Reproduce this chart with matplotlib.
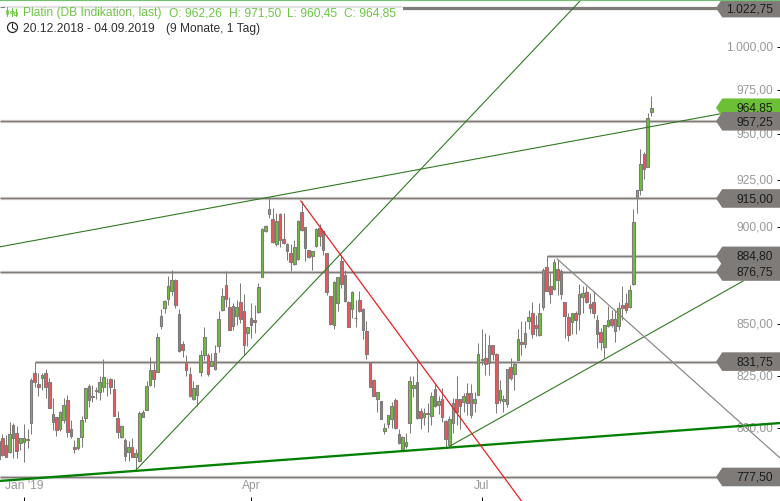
# Platin daily candles with support/resistance levels and trend lines

import numpy as np
import matplotlib
matplotlib.use("Agg")
import matplotlib.pyplot as plt
from matplotlib.patches import Polygon, Circle, Rectangle
from matplotlib.ticker import NullLocator
from matplotlib.transforms import ScaledTranslation

plt.rcParams['font.family'] = ['Liberation Sans', 'DejaVu Sans']

# Candles, one entry per trading day from 20.12.2018 to 04.09.2019
opens = [785.7, 795.3, 792.2, 788.8, 801.5, 797.6, 793, 793.4, 794.9, 802.3,
         826, 820.8, 823.6, 826, 822, 806.5, 805.4, 799.5, 803.9, 813.3,
         799.5, 791.1, 790.6, 796, 805, 820.1, 814.9, 817.7, 817.3, 819.7,
         821.6, 823.2, 818.5, 804.7, 796, 794.5, 788.8, 791.4, 786.8, 785,
         805.4, 808.7, 820.4, 827.6, 826.6, 849.4, 858, 862.7, 866.6, 872.5,
         855.2, 840.5, 831.7, 825.9, 813.8, 815.5, 826.7, 834.8, 835.1, 829.5,
         828.3, 839.2, 857.4, 869.9, 858.7, 849.1, 854.4, 861.2, 856.9, 845.8,
         853.2, 852.4, 856, 873.9, 898, 906.8, 903.9, 890.9, 906.8, 893.5,
         891.1, 886.2, 880.6, 883.3, 907.7, 899.7, 887.6, 884.5, 889.7, 899.2,
         897.8, 886.2, 864.1, 849.6, 861, 882.4, 875.1, 861.2, 857.7, 853.3,
         862.4, 857.7, 846.9, 831.3, 822.9, 813.8, 812.8, 798.9, 802, 804.5,
         813.3, 797.2, 789.9, 791.7, 802.3, 819.2, 821.8, 808.1, 805.4, 806.9,
         805.9, 818.6, 810.9, 813.6, 803.4, 792.2, 802.3, 813.6, 813.9, 812.5,
         816.5, 806.2, 812, 815.7, 832.9, 833.6, 831, 839.8, 835.6, 813.2,
         812.6, 811.3, 829.2, 825.7, 832.3, 841.3, 840.4, 851.5, 855.7, 849.9,
         844.9, 858.5, 879, 869.1, 867.8, 878, 876.8, 861.1, 853.5, 851,
         855.7, 855.3, 863.7, 866.3, 860.2, 861.5, 852.4, 846.2, 839.1, 849.5,
         852.7, 847, 849.4, 859.8, 860.7, 858.7, 870.4, 915, 919.3, 938.9,
         932.1, 962.26]
highs = [797.6, 797.1, 796.8, 802.8, 802.3, 801.2, 795.3, 801.8, 799.6, 823.6,
         831.75, 826, 826, 828.4, 823.6, 814.1, 805.4, 808.1, 814.1, 815.7,
         803.9, 794.5, 795.6, 805.7, 819.2, 820.8, 820.4, 819.7, 824.9, 832.8,
         823.6, 823.6, 823.2, 808.1, 801.5, 795.3, 794, 795.3, 790.3, 808.2,
         808.6, 822.4, 833.8, 830.9, 845.8, 857.7, 862.3, 874.6, 877.7, 872.9,
         857.7, 841.7, 835.1, 829.1, 822.2, 820.6, 837.5, 848.7, 835.9, 835.9,
         840, 856.5, 868.3, 876.8, 864, 861, 862.4, 870.8, 865.4, 849,
         860.7, 859.9, 870.8, 899.2, 900.9, 915.1, 909.8, 907.1, 907.1, 907.1,
         891.4, 891.1, 893.2, 903.6, 913.4, 900, 887.9, 887.4, 899.2, 901.3,
         898, 886.2, 864.4, 871.7, 873.7, 885.4, 877.7, 861.6, 866.9, 862.4,
         866.6, 858.2, 851.5, 831.8, 823.2, 817, 812.8, 802.3, 806, 812.5,
         814.1, 799.5, 796.4, 797.6, 824.8, 825, 832.3, 809.3, 809.3, 811.7,
         817.3, 821.3, 815, 818.9, 803.9, 805.7, 814.1, 824.8, 813.9, 816.8,
         821.3, 821, 817.3, 840.8, 847.8, 845.6, 844.8, 839.8, 835.9, 822.8,
         815.5, 828.1, 833.3, 831.5, 847.7, 851.9, 851.5, 857.3, 861.5, 854.9,
         860.7, 878.5, 884.8, 875.9, 883.1, 883.1, 878, 861.5, 855.7, 855.7,
         856.5, 870.3, 869.5, 869.1, 865.7, 866.6, 854.9, 848.2, 849.9, 859.3,
         857.3, 857.3, 861.5, 869.1, 865.7, 870, 909.5, 919.8, 941.7, 940,
         961.7, 971.5]
lows = [785.2, 787.3, 786.8, 788.3, 786, 786, 789.9, 784.2, 790.6, 797.1,
        819.7, 815.4, 818, 814.1, 809.7, 799.2, 796.5, 798.7, 802.3, 796,
        795.3, 788.3, 789.9, 791.4, 803.1, 810.1, 812.5, 814, 813.3, 817.3,
        815.4, 816, 805.7, 795.3, 795.3, 784.8, 784.8, 786.5, 780.6, 784.8,
        805.1, 808.4, 820.1, 819.7, 826.6, 847.7, 855.7, 859.9, 864.9, 858.2,
        836.4, 833.8, 824.6, 814.7, 813.5, 810.3, 825, 832.7, 824.6, 829.5,
        827.5, 836.3, 856.5, 858.7, 847.1, 847.4, 849.9, 850.7, 835.1, 839.5,
        843.3, 845.8, 855.7, 873.9, 897.5, 904.5, 891.4, 889.7, 889.3, 891.1,
        882.8, 876.8, 880.2, 882.8, 898, 881.9, 883.6, 877.7, 889.3, 889.7,
        885.4, 864.6, 849.9, 847.7, 856.5, 868.3, 861.2, 848.7, 853.2, 848.7,
        856.2, 843, 833.2, 819.4, 815.2, 807.8, 804.2, 797.2, 800, 800,
        799.6, 792.7, 789.9, 791, 797.6, 814.9, 804.3, 799.5, 801.5, 798.4,
        801.5, 810.1, 806.7, 803.1, 790.7, 791.7, 797.6, 801.5, 799.6, 807.8,
        806.2, 804.6, 807.4, 815.7, 830, 825.2, 825.2, 832.5, 806.9, 811.7,
        807.8, 810.1, 822.8, 817.9, 832.3, 835, 838.3, 847.7, 843.2, 844.1,
        844.4, 857.3, 866.6, 860.7, 867.5, 864.8, 862.9, 843.2, 841.6, 845.4,
        845.4, 847.4, 855.7, 860.7, 855.7, 853.2, 838.3, 837.5, 833.4, 848.7,
        849, 841.1, 847.4, 852.4, 855.7, 858.2, 870, 907.5, 917, 925.7,
        931.8, 960.45]
closes = [794, 787.6, 786.8, 797.1, 795.6, 789.4, 795.3, 795.3, 794.7, 822.8,
          822, 819.7, 825.2, 819.7, 809.7, 802.8, 799.2, 807.5, 810.9, 798.4,
          796.5, 790.2, 795.3, 803.7, 818.9, 813.1, 815.1, 817.9, 822, 824.1,
          821.2, 819.7, 805.9, 798.4, 801, 787.3, 791.4, 786.8, 788.3, 807,
          807.5, 820, 827.9, 823.2, 843.8, 854.4, 861.9, 869.5, 872.5, 859.6,
          836.8, 837.2, 827.5, 815, 819, 820.6, 835.1, 843.8, 825.8, 831.9,
          835.9, 852.7, 864.4, 862.7, 847.4, 859.4, 858.7, 852.7, 839.7, 848.7,
          849.9, 851, 868.8, 898.7, 900.6, 909.5, 891.8, 903.1, 893.2, 891.4,
          887.1, 881.4, 889.4, 903.1, 898.3, 888.8, 884, 887.4, 898.9, 895.4,
          887.6, 866.1, 850.2, 871.3, 873.7, 870.5, 861.6, 849, 866.2, 853.1,
          856.5, 847.1, 835.4, 819.7, 815.4, 817, 804.3, 800.1, 806, 810.4,
          800, 793, 796.1, 793.6, 822.4, 820.5, 804.6, 804.6, 807, 806.7,
          815.2, 810.6, 812.8, 805.4, 795, 804.3, 811.7, 807.8, 810.4, 815.2,
          812, 816.8, 814, 835.6, 832.4, 830.4, 839.8, 835.3, 811.7, 817.9,
          813.7, 828.1, 823.9, 830.5, 842.7, 840.3, 845.7, 853.5, 845.4, 848.5,
          855.7, 877.6, 866.6, 865.2, 881.6, 872.2, 865.2, 854, 844.9, 855.7,
          852.4, 865.4, 865.7, 861.5, 858.2, 855.7, 845.4, 841.3, 849.9, 852.4,
          849.9, 852.9, 858.2, 858.2, 857, 867.1, 902.6, 919.8, 933.9, 931.1,
          958.9, 964.85]

# Horizontal levels: price, first bar, text on the right
levels = [1022.75, 957.25, 915.0, 884.80, 876.75, 831.75, 777.50]
level_start = [0.35, 0.35, 0.35, 152.1, 0.35, 10.06, 0.35]
level_text = ["1.022,75", "957,25", "915,00", "884,80", "876,75", "831,75", "777,50"]

# Trend lines as (bar, price) end points
thin_green_x = [[0.35, 200.1], [38.1, 161.5], [125.2, 206.5]]
thin_green_y = [[889.5, 961.4], [780.7, 1027.6], [791.7, 871.9]]
thick_green_x = [0.35, 216.72]
thick_green_y = [775.7, 802.4]
red_x = [83.8, 145.2]
red_y = [913.7, 766.2]
grey_x = [154.9, 216.72]
grey_y = [883.2, 786.2]

# 875 and 1.025 sit under the level flags, so only their ticks remain
y_ticks = [800, 825, 850, 875, 900, 925, 950, 975, 1000, 1025]
y_tick_labels = ["800,00", "825,00", "850,00", "", "900,00", "925,00",
                 "950,00", "975,00", "1.000,00", ""]
x_ticks = [7, 70, 134]
x_tick_labels = ["Jan '19", "Apr", "Jul"]

last_price = 964.85

WICK = "#7f7b78"
UP = "#6fbf3a"
DOWN = "#f2555a"
LABEL_GREY = "#999999"
px = 0.72  # one pixel in points at dpi 100

fig = plt.figure(figsize=(7.8, 5.02), dpi=100, facecolor='white')
ax = fig.add_axes([0, 0, 1, 1])
ax.set_yscale('log')
ax.set_xlim(0.35, 216.72)
ax.set_ylim(766.65, 1028.2)
ax.set_axisbelow(True)
for s in ax.spines.values():
    s.set_visible(False)

ax.yaxis.tick_right()
ax.set_yticks(y_ticks)
ax.set_yticklabels(y_tick_labels)
ax.yaxis.set_minor_locator(NullLocator())
ax.tick_params(axis='y', which='major', direction='in', length=2.4, width=px,
               color='black', pad=-5.04, labelsize=8.64, labelcolor=LABEL_GREY)
# labels sit a little above their ticks in the reference
lift = ScaledTranslation(0, 2 / 72 * px, fig.dpi_scale_trans)
for tick in ax.yaxis.get_major_ticks():
    tick.label2.set_ha('right')
    tick.label2.set_transform(tick.label2.get_transform() + lift)
ax.set_xticks(x_ticks)
ax.set_xticklabels(x_tick_labels)
ax.tick_params(axis='x', direction='in', length=3, width=px, color='black',
               pad=-15.5, labelsize=8.64, labelcolor=LABEL_GREY)

# Level lines, light halo with a darker core
for price, start in zip(levels, level_start):
    if price == levels[0]:
        ax.plot([start, 199.5], [price, price], color=WICK, lw=3.2 * px,
                solid_capstyle='butt', zorder=1)
    else:
        ax.plot([start, 199.5], [price, price], color='#cfccca', lw=3.2 * px,
                solid_capstyle='butt', zorder=1)
        ax.plot([start, 199.5], [price, price], color=WICK, lw=1.3 * px,
                solid_capstyle='butt', zorder=1.1)

# Candles
xs = np.arange(len(opens))
o = np.array(opens)
h = np.array(highs)
l = np.array(lows)
c = np.array(closes)
body_low = np.minimum(o, c)
body_high = np.maximum(o, c)
colors = [UP if up else DOWN for up in c >= o]
ax.vlines(xs, l, h, color=WICK, lw=px, zorder=2)
ax.bar(xs, body_high - body_low, bottom=body_low, width=0.72, color=colors,
       edgecolor=WICK, linewidth=1.1 * px, zorder=2.1)

# Trend lines
for tx, ty in zip(thin_green_x, thin_green_y):
    ax.plot(tx, ty, color='#2f7a20', lw=1.1 * px, zorder=3)
ax.plot(thick_green_x, thick_green_y, color='#008000', lw=2.3 * px, zorder=3)
ax.plot(red_x, red_y, color='#f01818', lw=1.2 * px, zorder=3)
ax.plot(grey_x, grey_y, color='#8a8683', lw=1.2 * px, zorder=3)


# Price flags on the right
def flag(price, color, text, z):
    half = np.exp(9.3 / 1710)
    verts = [(198.97, price), (200.7, price * half), (216.72, price * half),
             (216.72, price / half), (200.7, price / half)]
    ax.add_patch(Polygon(verts, closed=True, facecolor=color, edgecolor='none',
                         zorder=z))
    ax.text(214.8, price, text, ha='right', va='center', fontsize=8.64,
            color='#1c1c1c', zorder=z + 0.01)


flag(last_price, '#6cc035', "964,85", 4)
for price, text in zip(levels, level_text):
    flag(price, WICK, text, 5)

# Header drawn in pixel coordinates on a second, empty axes
top = fig.add_axes([0, 0, 1, 1])
top.set_xlim(0, 780)
top.set_ylim(502, 0)
top.axis('off')
top.plot([0, 780], [0.5, 0.5], color='#74bf74', lw=1.2 * px)
top.add_patch(Rectangle((5, 6), 398, 6, facecolor='white', edgecolor='none'))
top.add_patch(Rectangle((5, 7), 398, 2.4, facecolor='#e2e2e2', edgecolor='none'))
top.add_patch(Rectangle((0, 9.4), 5, 2.5, facecolor='white', edgecolor='none'))

HEAD_GREEN = '#6cc644'
for x, s in [(23.2, "Platin (DB Indikation, last)"), (169, "O: 962,26"),
             (228.7, "H: 971,50"), (287, "L: 960,45"), (344, "C: 964,85")]:
    top.text(x, 13.3, s, color=HEAD_GREEN, fontsize=8.64, ha='left', va='center')
top.text(23.2, 28.9, "20.12.2018 - 04.09.2019", color='#303030', fontsize=8.64,
         ha='left', va='center')
top.text(166.5, 28.9, "(9 Monate, 1 Tag)", color='#303030', fontsize=8.64,
         ha='left', va='center')

# Candle icon
for x, y0, y1, b0, b1 in [(7, 8, 17, 11, 15), (11.5, 9, 17, 12, 14), (15.5, 10, 17, 13, 16)]:
    top.plot([x, x], [y0, y1], color=HEAD_GREEN, lw=px)
    top.add_patch(Rectangle((x - 1.2, b0), 2.4, b1 - b0, facecolor='white',
                            edgecolor=HEAD_GREEN, lw=0.8 * px))
# Clock icon
top.add_patch(Circle((12.5, 28.5), 5, facecolor='none', edgecolor='#222222', lw=1.2 * px))
top.plot([12.5, 12.5, 15.5], [25, 29, 30.5], color='#222222', lw=px)

fig.savefig("out.png", dpi=100, facecolor='white')
